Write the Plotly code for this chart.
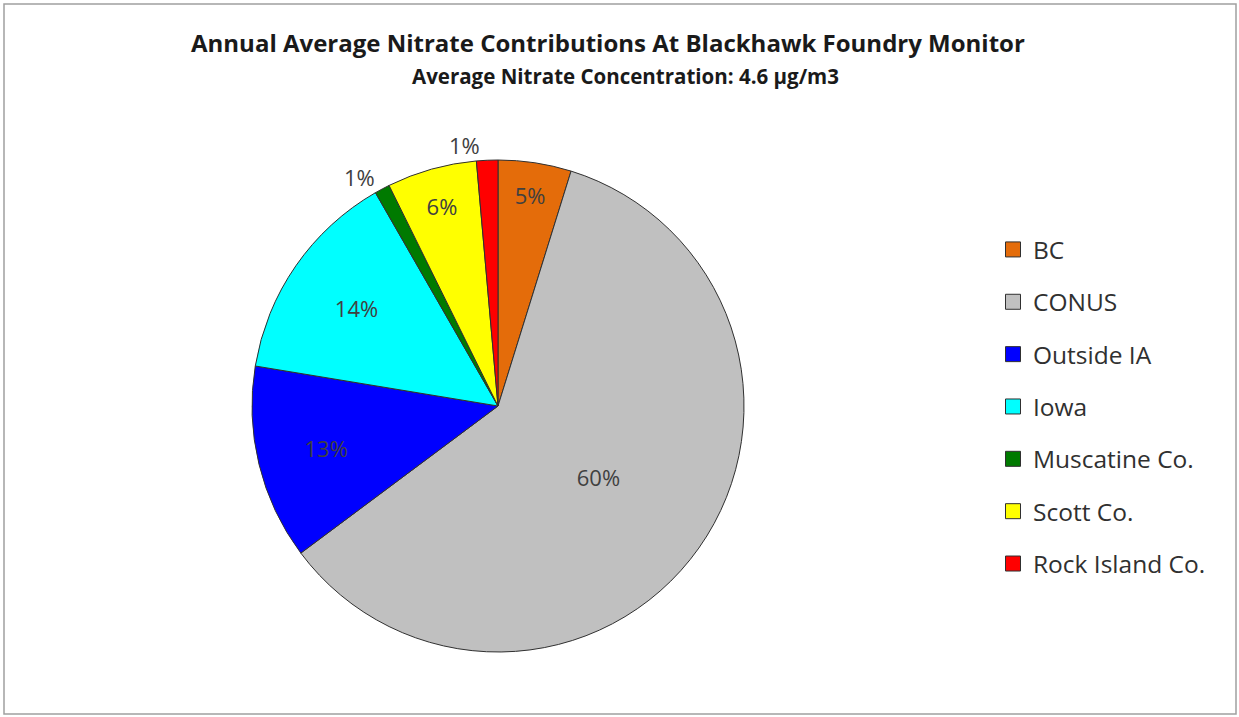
import plotly.graph_objects as go

labels = ["BC", "CONUS", "Outside IA", "Iowa", "Muscatine Co.", "Scott Co.", "Rock Island Co."]
values = [4.8, 60.0, 12.8, 14.1, 1.0, 5.9, 1.4]
colors = ["#E46C0A", "#C0C0C0", "#0000FF", "#00FFFF", "#007A00", "#FFFF00", "#FF0000"]
textpos = ["inside", "inside", "inside", "inside", "outside", "inside", "outside"]

title = "Annual Average Nitrate Contributions At Blackhawk Foundry Monitor"
subtitle = "Average Nitrate Concentration: 4.6 µg/m3"

W, H = 1239, 717
cx, cy, r = 498, 406, 246
FONT = "Open Sans"

fig = go.Figure()
fig.add_trace(go.Pie(
    labels=labels, values=values, sort=False, direction="clockwise", rotation=0,
    marker=dict(colors=colors, line=dict(color="#303030", width=1)),
    texttemplate="%{percent:.0%}", textposition=textpos,
    textfont=dict(family=FONT, size=22, color="#404040"),
    insidetextorientation="horizontal",
    showlegend=False, hoverinfo="label+percent",
    domain=dict(x=[(cx - r) / W, (cx + r) / W], y=[(H - cy - r) / H, (H - cy + r) / H]),
))

for lab, col in zip(labels, colors):
    fig.add_trace(go.Scatter(
        x=[None], y=[None], mode="markers", name=lab, legendgroup=lab,
        marker=dict(symbol="square", size=15, color=col, line=dict(color="#303030", width=1)),
    ))

fig.update_layout(
    width=W, height=H, margin=dict(l=0, r=0, t=0, b=0),
    paper_bgcolor="white", plot_bgcolor="white",
    uniformtext=dict(minsize=22, mode="show"),
    xaxis=dict(visible=False, domain=[0.9, 0.91]), yaxis=dict(visible=False, domain=[0.9, 0.91]),
    legend=dict(x=993 / W, y=1 - 227 / H, xanchor="left", yanchor="top",
                font=dict(family=FONT, size=24.5, color="#303030"),
                tracegroupgap=17.5, itemclick=False, bgcolor="rgba(0,0,0,0)"),
    annotations=[
        dict(text="<b>" + title + "</b>", x=608 / W, y=1 - 43 / H, xref="paper", yref="paper",
             showarrow=False, font=dict(family=FONT, size=24, color="#1a1a1a"), xanchor="center", yanchor="middle"),
        dict(text="<b>" + subtitle + "</b>", x=625 / W, y=1 - 76 / H, xref="paper", yref="paper",
             showarrow=False, font=dict(family=FONT, size=20.5, color="#1a1a1a"), xanchor="center", yanchor="middle"),
    ],
    shapes=[dict(type="rect", xref="paper", yref="paper", x0=4 / W, x1=1236 / W, y0=1 - 714 / H, y1=1 - 4 / H,
                 line=dict(color="#a0a0a0", width=1.5))],
)

fig.write_html("out.html")
